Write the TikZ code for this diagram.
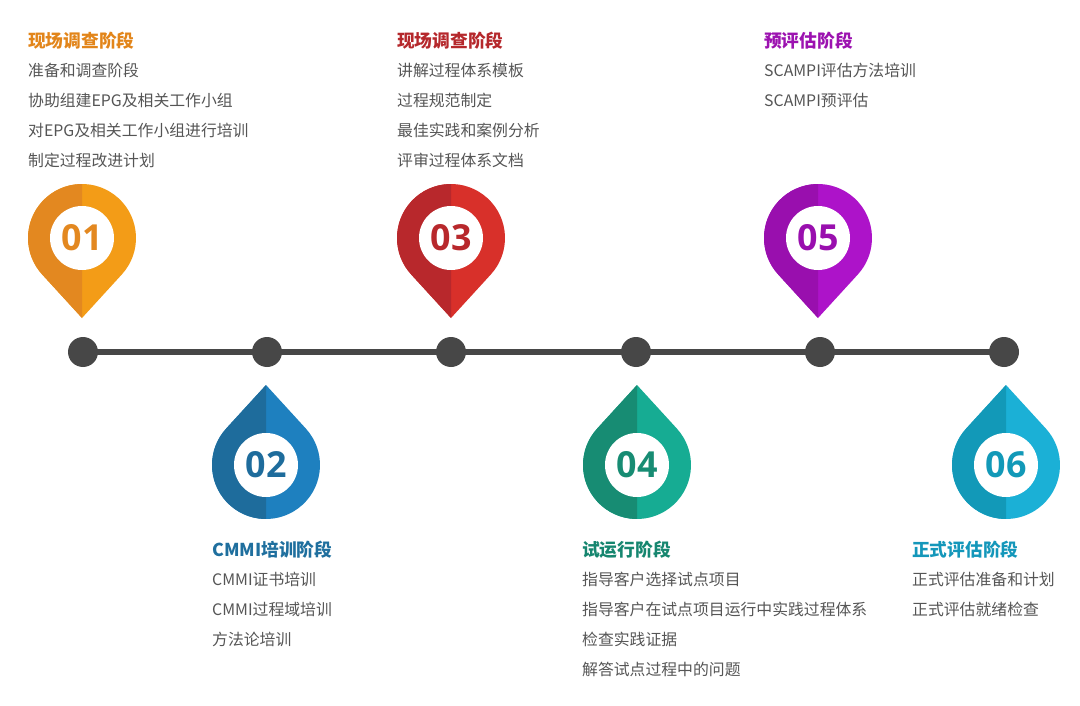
\documentclass[tikz,border=0pt]{standalone}
\usepackage{fontspec}
\newfontfamily\cjk{Noto Sans CJK SC}
\newfontfamily\numf{Open Sans}
\definecolor{gtx}{HTML}{555555}
\definecolor{lin}{HTML}{474747}
\definecolor{aD}{HTML}{E38820}\definecolor{aL}{HTML}{F39C17}\definecolor{aT}{HTML}{E2851A}
\definecolor{bD}{HTML}{1E6C9C}\definecolor{bL}{HTML}{1E80BF}\definecolor{bT}{HTML}{1F6F9E}
\definecolor{cD}{HTML}{B8282C}\definecolor{cL}{HTML}{D8302A}\definecolor{cT}{HTML}{B5282C}
\definecolor{dD}{HTML}{178C73}\definecolor{dL}{HTML}{16AC93}\definecolor{dT}{HTML}{16866F}
\definecolor{eD}{HTML}{990FAE}\definecolor{eL}{HTML}{AD13C9}\definecolor{eT}{HTML}{9C12B0}
\definecolor{fD}{HTML}{1299B8}\definecolor{fL}{HTML}{1BB0D6}\definecolor{fT}{HTML}{1497BA}
% #1 cx, #2 cy, #3 dir, #4 dark, #5 light, #6 number, #7 name
\newcommand\mypin[7]{%
  \begin{scope}[shift={(#1,#2)},yscale=#3]
    \fill[#5] (0,-80) -- (-42.5:54) arc[start angle=-42.5,end angle=222.5,radius=54] -- cycle;
    \begin{scope}
      \clip (-60,-90) rectangle (0,60);
      \fill[#4] (0,-80) -- (-42.5:54) arc[start angle=-42.5,end angle=222.5,radius=54] -- cycle;
    \end{scope}
    \fill[white] (0,0) circle[radius=32];
  \end{scope}
  \node[font=\numf\bfseries\fontsize{36}{36}\selectfont, text=#4] (#7) at (#1,#2) {#6};}
\tikzset{ttl/.style={anchor=west,font=\cjk\bfseries\fontsize{17.8}{17.8}\selectfont,inner sep=0},
 itm/.style={anchor=west,font=\cjk\fontsize{15.9}{15.9}\selectfont,text=gtx,inner sep=0}}
\begin{document}
\begin{tikzpicture}[x=1bp,y=-1bp]
\useasboundingbox (0,0) rectangle (1080,706);
\draw[lin,line width=6] (83,352) -- (1004,352);
\foreach \x/\n in {83/d1,267/d2,451/d3,636/d4,820/d5,1004/d6}
  \fill[lin] (\x,352) circle[radius=15] coordinate (\n);
\mypin{82}{238}{-1}{aD}{aL}{01}{p1}
\mypin{451}{238}{-1}{cD}{cL}{03}{p3}
\mypin{818}{238}{-1}{eD}{eL}{05}{p5}
\mypin{266}{465}{1}{bD}{bL}{02}{p2}
\mypin{637}{465}{1}{dD}{dL}{04}{p4}
\mypin{1006}{465}{1}{fD}{fL}{06}{p6}
% texts
\node[ttl,text=aT] (t1) at (28,41) {现场调查阶段};
\node[itm] at (28,70) {准备和调查阶段};
\node[itm] at (28,100) {协助组建EPG及相关工作小组};
\node[itm] at (28,130) {对EPG及相关工作小组进行培训};
\node[itm] at (28,160) {制定过程改进计划};
\node[ttl,text=cT] (t3) at (397,41) {现场调查阶段};
\node[itm] at (397,70) {讲解过程体系模板};
\node[itm] at (397,100) {过程规范制定};
\node[itm] at (397,130) {最佳实践和案例分析};
\node[itm] at (397,160) {评审过程体系文档};
\node[ttl,text=eT] (t5) at (764,41) {预评估阶段};
\node[itm] at (764,70) {SCAMPI评估方法培训};
\node[itm] at (764,100) {SCAMPI预评估};
\node[ttl,text=bT] (t2) at (212,550) {CMMI培训阶段};
\node[itm] at (212,579) {CMMI证书培训};
\node[itm] at (212,609) {CMMI过程域培训};
\node[itm] at (212,639) {方法论培训};
\node[ttl,text=dT] (t4) at (582,550) {试运行阶段};
\node[itm] at (582,579) {指导客户选择试点项目};
\node[itm] at (582,609) {指导客户在试点项目运行中实践过程体系};
\node[itm] at (582,639) {检查实践证据};
\node[itm] at (582,669) {解答试点过程中的问题};
\node[ttl,text=fT] (t6) at (912,550) {正式评估阶段};
\node[itm] at (912,579) {正式评估准备和计划};
\node[itm] at (912,609) {正式评估就绪检查};
\end{tikzpicture}
\end{document}
